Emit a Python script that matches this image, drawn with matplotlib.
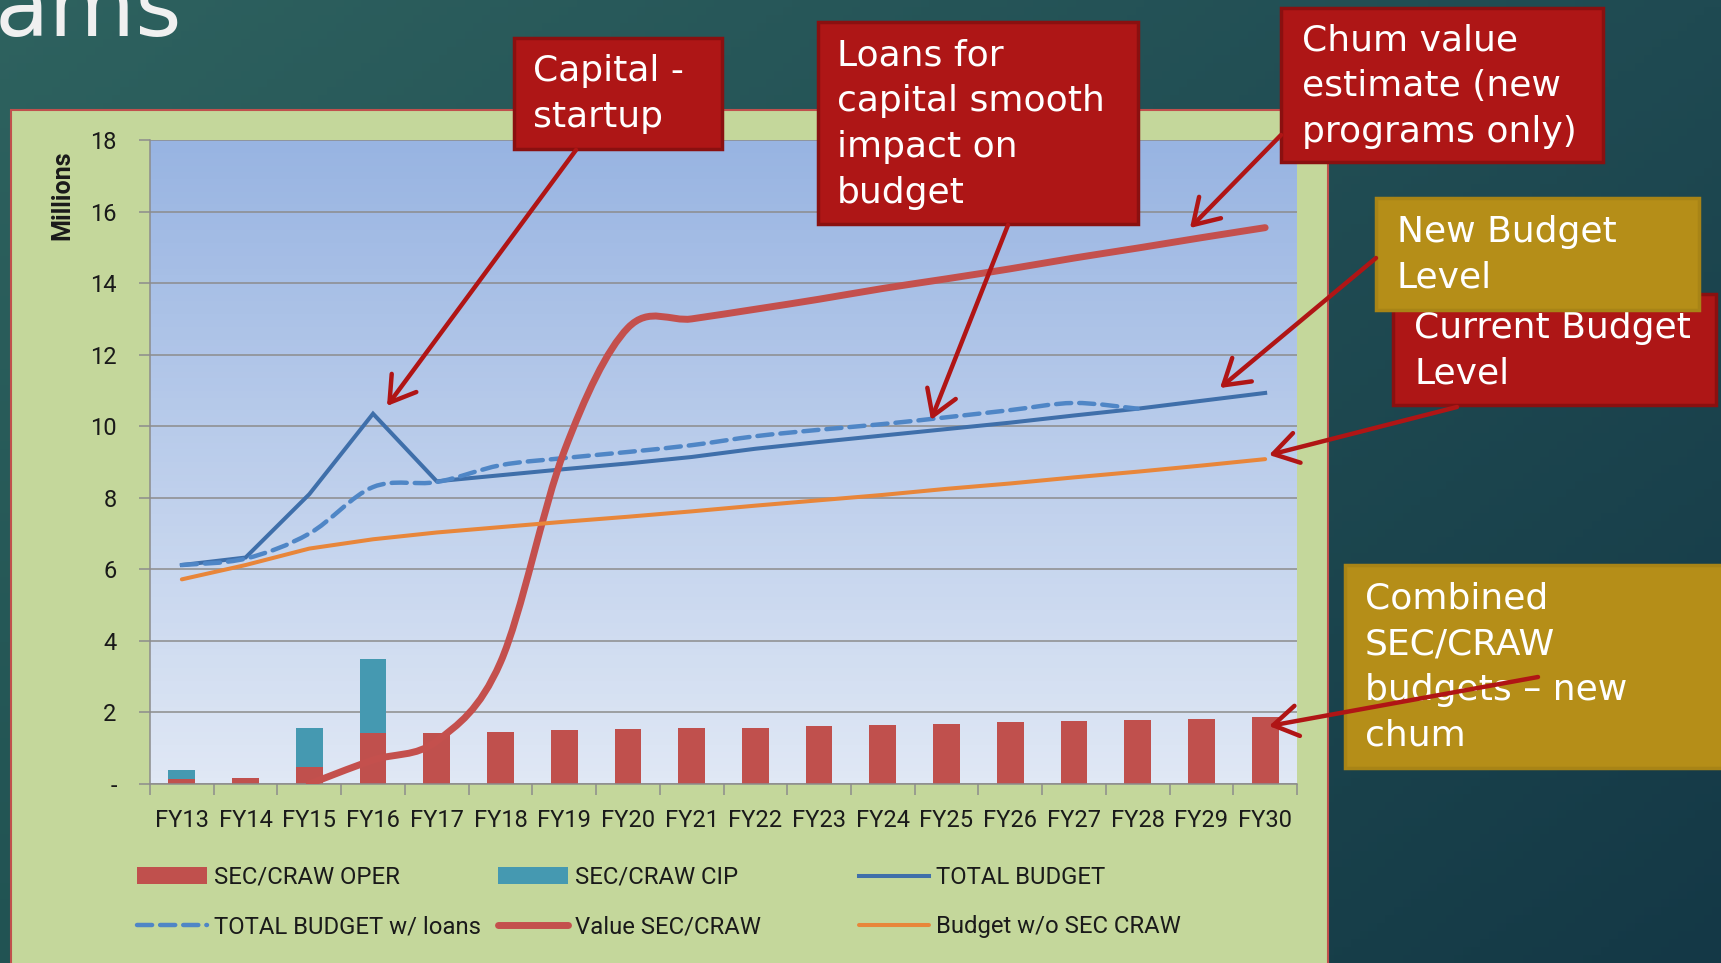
import numpy as np
import matplotlib.pyplot as plt
from matplotlib.path import Path
from matplotlib.patches import PathPatch, Rectangle, FancyArrowPatch
from matplotlib.lines import Line2D

plt.rcParams['font.family'] = ['Roboto', 'DejaVu Sans']

# DATA (millions)
years = ["FY13", "FY14", "FY15", "FY16", "FY17", "FY18", "FY19", "FY20", "FY21",
         "FY22", "FY23", "FY24", "FY25", "FY26", "FY27", "FY28", "FY29", "FY30"]
oper = [0.13, 0.17, 0.47, 1.42, 1.42, 1.46, 1.50, 1.54, 1.57,
        1.57, 1.61, 1.65, 1.68, 1.72, 1.76, 1.80, 1.83, 1.87]
cip = [0.26, 0.0, 1.10, 2.08, 0, 0, 0, 0, 0, 0, 0, 0, 0, 0, 0, 0, 0, 0]
total = [6.12, 6.33, 8.10, 10.35, 8.46, 8.63, 8.80, 8.96, 9.14,
         9.37, 9.56, 9.74, 9.92, 10.10, 10.30, 10.49, 10.71, 10.93]
# loans line runs FY13..FY28, then sits on the total budget line
loans = [6.12, 6.30, 7.00, 8.30, 8.44, 8.91, 9.11, 9.28, 9.47,
         9.72, 9.90, 10.06, 10.25, 10.45, 10.65, 10.49]
# value line starts at FY15
value = [0.0, 0.67, 1.20, 3.40, 9.30, 12.75, 13.00, 13.27,
         13.55, 13.85, 14.12, 14.40, 14.70, 14.98, 15.27, 15.55]
no_sec = [5.72, 6.12, 6.58, 6.84, 7.03, 7.18, 7.33, 7.47, 7.62,
          7.78, 7.93, 8.08, 8.25, 8.40, 8.57, 8.73, 8.90, 9.08]

legend_labels = ["SEC/CRAW OPER", "SEC/CRAW CIP", "TOTAL BUDGET",
                 "TOTAL BUDGET w/ loans", "Value SEC/CRAW", "Budget w/o SEC CRAW"]

C_OPER = '#C0504D'
C_CIP = '#4599B1'
C_TOTAL = '#3F6FAA'
C_LOANS = '#4F86C6'
C_VALUE = '#C4504D'
C_NOSEC = '#E8863A'
C_RED = '#AE1616'
C_GOLD = '#B58E18'
C_ARROW = '#B01515'

W, H = 1721, 963
fig = plt.figure(figsize=(W / 100, H / 100), dpi=100)


def fx(px):
    return px / W


def fy(py):
    return 1 - py / H


def smooth_path(xs, ys):
    # Catmull-Rom style bezier, like the "smoothed line" option in Excel
    n = len(xs)
    verts = [(xs[0], ys[0])]
    codes = [Path.MOVETO]
    for i in range(n - 1):
        p0 = max(i - 1, 0)
        p3 = min(i + 2, n - 1)
        c1 = (xs[i] + (xs[i + 1] - xs[p0]) / 6, ys[i] + (ys[i + 1] - ys[p0]) / 6)
        c2 = (xs[i + 1] - (xs[p3] - xs[i]) / 6, ys[i + 1] - (ys[p3] - ys[i]) / 6)
        verts += [c1, c2, (xs[i + 1], ys[i + 1])]
        codes += [Path.CURVE4] * 3
    return Path(verts, codes)


# slide background
bg = fig.add_axes([0, 0, 1, 1], zorder=-10)
bg.set_axis_off()
tl = np.array([46, 98, 95]) / 255
tr = np.array([31, 74, 82]) / 255
bl = np.array([33, 83, 83]) / 255
br = np.array([20, 56, 70]) / 255
u = np.linspace(0, 1, 200)[None, :, None]
v = np.linspace(0, 1, 120)[:, None, None]
grad = (1 - v) * ((1 - u) * tl + u * tr) + v * ((1 - u) * bl + u * br)
bg.imshow(grad, extent=[0, 1, 0, 1], aspect='auto', origin='upper')
bg.set_xlim(0, 1)
bg.set_ylim(0, 1)

fig.text(fx(182), fy(36), "ams", ha='right', va='baseline', fontsize=64,
         color='#F0F0F0', family='DejaVu Sans')

# chart panel
fig.add_artist(Rectangle((fx(11), -0.01), fx(1328) - fx(11), fy(110) + 0.01,
                         transform=fig.transFigure, fc='#C4D79B', ec='#C0504D',
                         lw=1.5, zorder=-5))

ax = fig.add_axes([fx(150), fy(784), fx(1297) - fx(150), fy(140) - fy(784)])
ax.set_xlim(-0.5, 17.5)
ax.set_ylim(0, 18)
ax.patch.set_visible(False)
area = np.linspace(0, 1, 100)[:, None, None]
top_c = np.array([152, 180, 226]) / 255
bot_c = np.array([224, 232, 245]) / 255
ax.imshow((1 - area) * top_c + area * bot_c, extent=[-0.5, 17.5, 0, 18],
          aspect='auto', origin='upper', zorder=0)

x = np.arange(len(years))
ax.bar(x, oper, width=0.42, color=C_OPER, zorder=2)
ax.bar(x, cip, width=0.42, bottom=oper, color=C_CIP, zorder=2)

ax.plot(x, total, color=C_TOTAL, lw=2.9, solid_joinstyle='miter', zorder=3)

loans_patch = PathPatch(smooth_path(x[:len(loans)], loans), fill=False,
                        ec=C_LOANS, lw=3.2, zorder=4)
loans_patch.set_linestyle((0, (3.4, 1.8)))
loans_patch.set_capstyle('round')
ax.add_patch(loans_patch)

value_patch = PathPatch(smooth_path(x[2:], value), fill=False, ec=C_VALUE,
                        lw=5, zorder=5)
value_patch.set_capstyle('round')
ax.add_patch(value_patch)

ax.plot(x, no_sec, color=C_NOSEC, lw=2.9, solid_capstyle='round', zorder=6)

ax.set_yticks(range(0, 19, 2))
ax.set_yticklabels(['-'] + [str(t) for t in range(2, 19, 2)])
ax.yaxis.grid(True, color='#8C8C8C', lw=1.1)
ax.set_axisbelow(True)
ax.set_xticks(np.arange(-0.5, 18, 1))
ax.set_xticklabels([])
ax.set_xticks(x, minor=True)
ax.set_xticklabels(years, minor=True)
for s in ['top', 'right']:
    ax.spines[s].set_visible(False)
for s in ['left', 'bottom']:
    ax.spines[s].set_color('#8C8C8C')
    ax.spines[s].set_linewidth(1.1)
ax.tick_params(axis='x', which='major', length=8, width=1.1, color='#8C8C8C')
ax.tick_params(axis='x', which='minor', length=0, pad=18, labelsize=17,
               labelcolor='#1A1A1A')
ax.tick_params(axis='y', length=8, width=1.1, color='#8C8C8C', pad=16,
               labelsize=17, labelcolor='#1A1A1A')

fig.text(fx(62), fy(195), "Millions", rotation=90, ha='center', va='center',
         fontsize=18, fontweight='bold', color='#1A1A1A')

# legend, three columns like Excel
h_oper = Rectangle((0, 0), 1, 1, fc=C_OPER)
h_cip = Rectangle((0, 0), 1, 1, fc=C_CIP)
h_total = Line2D([], [], color=C_TOTAL, lw=2.9)
h_loans = Line2D([], [], color=C_LOANS, lw=3.2, ls=(0, (3.4, 1.8)),
                 dash_capstyle='round')
h_value = Line2D([], [], color=C_VALUE, lw=5, solid_capstyle='round')
h_nosec = Line2D([], [], color=C_NOSEC, lw=2.9, solid_capstyle='round')
cols = [([h_oper, h_loans], [legend_labels[0], legend_labels[3]], 137),
        ([h_cip, h_value], [legend_labels[1], legend_labels[4]], 498),
        ([h_total, h_nosec], [legend_labels[2], legend_labels[5]], 859)]
for hs, ls, xp in cols:
    fig.legend(hs, ls, loc='center left', bbox_to_anchor=(fx(xp), fy(902)),
               frameon=False, fontsize=17.2, handlelength=2.95,
               handletextpad=0.28, labelspacing=1.1, borderpad=0,
               borderaxespad=0, labelcolor='#1A1A1A')

# callout boxes
boxes = [
    ((514, 38, 722, 149), C_RED, '#8A1010', "Capital -\nstartup", 533, 94),
    ((818, 22, 1138, 224), C_RED, '#8A1010',
     "Loans for\ncapital smooth\nimpact on\nbudget", 837, 124),
    ((1281, 8, 1603, 162), C_RED, '#8A1010',
     "Chum value\nestimate (new\nprograms only)", 1302, 86),
    ((1393, 294, 1716, 405), C_RED, '#8A1010', "Current Budget\nLevel", 1414, 351),
    ((1376, 198, 1699, 310), C_GOLD, '#A88416', "New Budget\nLevel", 1397, 255),
    ((1345, 565, 1740, 768), C_GOLD, '#A88416',
     "Combined\nSEC/CRAW\nbudgets \u2013 new\nchum", 1365, 667),
]
z = 10
for (x0, y0, x1, y1), fc, ec, txt, tx, ty in boxes:
    fig.add_artist(Rectangle((fx(x0), fy(y1)), fx(x1) - fx(x0), fy(y0) - fy(y1),
                             transform=fig.transFigure, fc=fc, ec=ec, lw=2.5,
                             zorder=z))
    fig.text(fx(tx), fy(ty), txt, ha='left', va='center', color='white',
             fontsize=26, family='DejaVu Sans', linespacing=1.44, zorder=z + 1)
    z += 2

arrows = [((576, 150), (387, 406)),
          ((1008, 225), (931, 420)),
          ((1281, 135), (1190, 228)),
          ((1376, 258), (1220, 388)),
          ((1457, 407), (1269, 455)),
          ((1538, 677), (1269, 726))]
for (ax0, ay0), (ax1, ay1) in arrows:
    arr = FancyArrowPatch((fx(ax0), fy(ay0)), (fx(ax1), fy(ay1)),
                          transform=fig.transFigure,
                          arrowstyle='->,head_length=0.8,head_width=0.5',
                          mutation_scale=22, color=C_ARROW, lw=3.2,
                          shrinkA=0, shrinkB=0, zorder=30)
    arr.set_capstyle('round')
    arr.set_joinstyle('round')
    fig.add_artist(arr)

fig.savefig('out.png', dpi=100)
